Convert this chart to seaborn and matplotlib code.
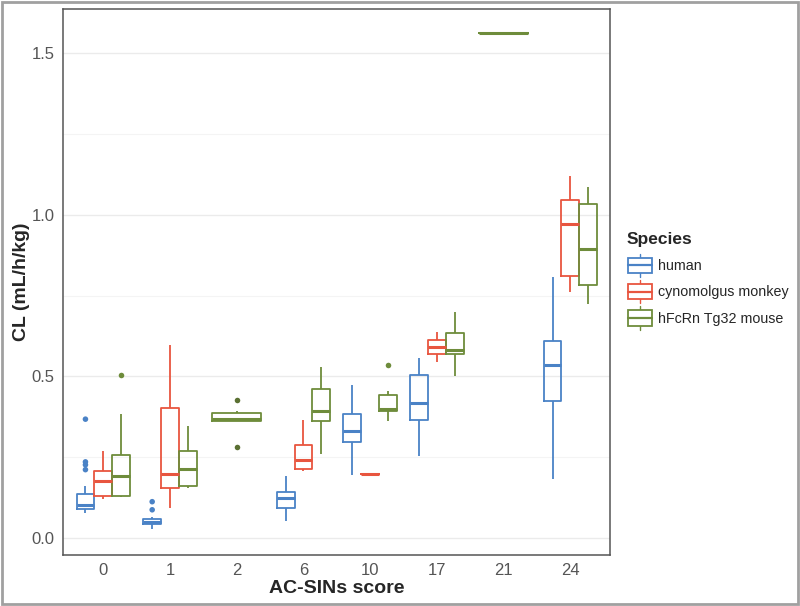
import matplotlib
matplotlib.use("Agg")
import matplotlib.pyplot as plt
from matplotlib.legend_handler import HandlerBase
from matplotlib.patches import Patch, Rectangle
from matplotlib.lines import Line2D
import pandas as pd
import seaborn as sns

categories = ["0", "1", "2", "6", "10", "17", "21", "24"]
species = ["human", "cynomolgus monkey", "hFcRn Tg32 mouse"]
colors = ["#4a82c6", "#e8553f", "#6e8c3b"]

# five-number summaries (whisker low, q1, median, q3, whisker high); None = no data
human_box = [
    (0.077, 0.089, 0.104, 0.138, 0.163),
    (0.028, 0.043, 0.050, 0.058, 0.067),
    None,
    (0.052, 0.092, 0.123, 0.144, 0.193),
    (0.196, 0.298, 0.331, 0.383, 0.475),
    (0.255, 0.365, 0.417, 0.503, 0.558),
    None,
    (0.184, 0.423, 0.534, 0.610, 0.807),
]
monkey_box = [
    (0.120, 0.132, 0.178, 0.209, 0.270),
    (0.095, 0.156, 0.200, 0.402, 0.598),
    None,
    (0.209, 0.215, 0.242, 0.288, 0.365),
    (0.200, 0.200, 0.200, 0.200, 0.200),
    (0.546, 0.570, 0.592, 0.613, 0.638),
    None,
    (0.761, 0.810, 0.972, 1.046, 1.120),
]
mouse_box = [
    (0.128, 0.132, 0.193, 0.258, 0.383),
    (0.156, 0.163, 0.215, 0.270, 0.347),
    (0.362, 0.362, 0.368, 0.386, 0.392),
    (0.261, 0.362, 0.393, 0.460, 0.530),
    (0.362, 0.393, 0.399, 0.442, 0.454),
    (0.500, 0.570, 0.583, 0.635, 0.699),
    (1.561, 1.561, 1.561, 1.561, 1.561),
    (0.724, 0.782, 0.893, 1.034, 1.086),
]

# outlier points
human_out = {"0": [0.368, 0.236, 0.227, 0.212], "1": [0.113, 0.088]}
monkey_out = {}
mouse_out = {"0": [0.503], "2": [0.426, 0.282], "10": [0.534]}

single_cats = ["2", "21"]  # only the mouse was measured here

rows, out_rows = [], []
for sp, boxes, outs in zip(species, [human_box, monkey_box, mouse_box],
                           [human_out, monkey_out, mouse_out]):
    for cat, b in zip(categories, boxes):
        if b is None:
            continue
        for v in b:
            rows.append({"score": cat, "Species": sp, "CL": v})
        for v in outs.get(cat, []):
            out_rows.append({"score": cat, "Species": sp, "CL": v})
df = pd.DataFrame(rows)
out = pd.DataFrame(out_rows)

multi = df[~df["score"].isin(single_cats)]
single = df[df["score"].isin(single_cats)]
out_multi = out[~out["score"].isin(single_cats)]
out_single = out[out["score"].isin(single_cats)]

sns.set_style("white")
plt.rcParams["font.family"] = ["Liberation Sans", "DejaVu Sans"]

fig = plt.figure(figsize=(8, 6.06), dpi=100)
ax = fig.add_axes([0.079, 0.084, 0.684, 0.901])

box_kw = dict(fill=False, whis=(0, 100), showcaps=False, linewidth=1.3,
              medianprops={"linewidth": 2.2}, legend=False)
sns.boxplot(data=multi, x="score", y="CL", hue="Species", order=categories,
            hue_order=species, palette=colors, width=0.8, dodge=True, ax=ax, **box_kw)
sns.boxplot(data=single, x="score", y="CL", order=categories, color=colors[2],
            width=0.73, ax=ax, **box_kw)
sns.stripplot(data=out_multi, x="score", y="CL", hue="Species", order=categories,
              hue_order=species, palette=colors, dodge=True, jitter=False,
              size=4, legend=False, ax=ax)
sns.stripplot(data=out_single, x="score", y="CL", order=categories,
              color="#5a7032", jitter=False, size=4, legend=False, ax=ax)

ax.set_xlim(-0.6, 7.6)
ax.set_ylim(-0.052, 1.635)
ax.set_yticks([0, 0.5, 1.0, 1.5])
ax.set_yticks([0.25, 0.75, 1.25], minor=True)
ax.set_yticklabels(["0.0", "0.5", "1.0", "1.5"])
ax.grid(axis="y", which="major", color="#ebebeb", linewidth=1.0)
ax.grid(axis="y", which="minor", color="#f4f4f4", linewidth=0.8)
ax.grid(axis="x", visible=False)
ax.set_axisbelow(True)
for s in ax.spines.values():
    s.set_color("#555555")
    s.set_linewidth(1.1)
ax.tick_params(axis="both", which="major", direction="out", length=4, width=1,
               color="#444444", labelcolor="#555555", labelsize=12, pad=2)
ax.tick_params(axis="y", which="minor", length=0)
ax.set_xlabel("AC-SINs score", fontsize=14, fontweight="bold", labelpad=1)
ax.set_ylabel("CL (mL/h/kg)", fontsize=14, fontweight="bold", labelpad=1)


class BoxKey(HandlerBase):
    def create_artists(self, legend, orig_handle, xdescent, ydescent, width,
                       height, fontsize, trans):
        c = orig_handle.get_edgecolor()
        x0, y0 = -xdescent, -ydescent
        artists = [
            Line2D([x0 + width / 2] * 2, [y0 - 0.25 * height, y0 + 1.25 * height],
                   color=c, lw=1, transform=trans),
            Rectangle((x0 + 0.05 * width, y0), 0.9 * width, height, facecolor="white",
                      edgecolor=c, lw=1.3, transform=trans),
            Line2D([x0 + 0.05 * width, x0 + 0.95 * width], [y0 + height / 2] * 2,
                   color=c, lw=1.6, transform=trans),
        ]
        return artists


handles = [Patch(facecolor="white", edgecolor=c) for c in colors]
leg = fig.legend(handles, species, handler_map={Patch: BoxKey()},
                 loc="center left", bbox_to_anchor=(0.772, 0.54), borderaxespad=0.2,
                 frameon=False, title="Species", fontsize=10.3, handlelength=1.9,
                 handleheight=1.3, handletextpad=0.35, labelspacing=0.75,
                 alignment="left")
leg.get_title().set_fontweight("bold")
leg.get_title().set_fontsize(12.5)

fig.add_artist(Rectangle((0.002, 0.003), 0.996, 0.994, transform=fig.transFigure,
                         fill=False, edgecolor="#a0a0a0", linewidth=2))

fig.savefig("out.png", dpi=100)
